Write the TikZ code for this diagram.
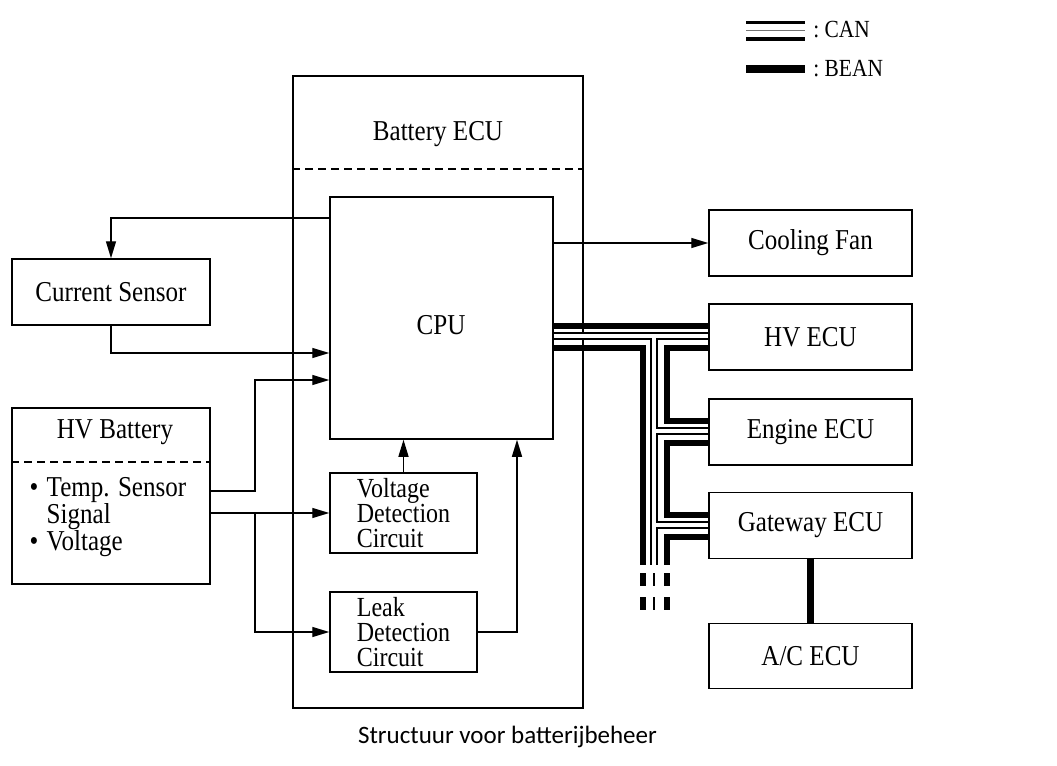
\documentclass[tikz,border=0pt]{standalone}
\usepackage{fontspec}
\setmainfont[FakeStretch=0.87]{Liberation Serif}
\newfontfamily\capfont{Carlito}
\usetikzlibrary{arrows.meta,positioning}
\newcommand\bul{\makebox[8.5pt][l]{\textbullet}}

\begin{document}
\begin{tikzpicture}[>={Triangle[length=8.5pt,width=5pt]},x=0.5pt,y=-0.5pt,
    box/.style={draw,line width=0.75pt,inner sep=0pt,align=center,
      font=\fontsize{14.4}{12}\selectfont},
    circ/.style={box,align=left,minimum width=73.5pt,minimum height=40pt,
      font=\fontsize{13.8}{12.3}\selectfont},
    txt/.style={inner sep=0pt,align=left,font=\fontsize{14.4}{13.5}\selectfont},
    sig/.style={->,line width=0.7pt},
    sep/.style={dashed,line width=0.6pt,dash pattern=on 4pt off 2.5pt},
    beam/.style={line width=3pt},
    pair/.style={double,line width=0.7pt,double distance=2.2pt}]
  \useasboundingbox (0,0) rectangle (1057,766);
  % legend
  \node[txt,anchor=west,font=\fontsize{12.3}{12}\selectfont] (can) at (813,30) {:\ CAN};
  \node[txt,anchor=west,font=\fontsize{12.3}{12}\selectfont] (bean) at (813,69) {:\ BEAN};
  \draw[line width=1.7pt] (746,22.5) -- (805,22.5) (746,39) -- (805,39);
  \draw[line width=0.8pt,black!55] (746,30.5) -- (805,30.5);
  \draw[line width=4.2pt] (746,69) -- (805,69);
  % battery ECU
  \node[box,minimum width=145pt,minimum height=316pt] (becu) at (438,392) {};
  \node[txt] (becutitle) at (438,134) {Battery ECU};
  \draw[sep] (becu.west |- 0,169) -- (becu.east |- 0,169);
  \node[box,minimum width=111.5pt,minimum height=121pt] (cpu) at (441.5,318) {};
  \node[txt] (cpulbl) at (441,325) {CPU};
  \node[circ] (vdc) at (403.5,513) {Voltage\\Detection\\Circuit};
  \node[circ] (ldc) at (403.5,632) {Leak\\Detection\\Circuit};
  % left side
  \node[box,minimum width=99pt,minimum height=33pt] (cs) at (111,292) {Current Sensor};
  \node[box,minimum width=99pt,minimum height=88pt] (hvb) at (111,496) {};
  \node[txt] (hvbtitle) at (115,432) {HV Battery};
  \draw[sep] (hvb.west |- 0,462) -- (hvb.east |- 0,462);
  \node[txt] (hvbsig) at (108,517) {\bul Temp. Sensor\\\phantom{\bul}Signal\\\bul Voltage};
  % right side
  \node[box,minimum width=101.5pt,minimum height=33pt] (fan) at (810.5,243) {Cooling Fan};
  \node[box,minimum width=101.5pt,minimum height=33pt] (hvecu) at (810.5,337) {HV ECU};
  \node[box,minimum width=101.5pt,minimum height=33pt] (eng) at (810.5,432) {Engine ECU};
  \node[box,minimum width=101.5pt,minimum height=33pt] (gw) at (810.5,525.5) {Gateway ECU};
  \node[box,minimum width=101.5pt,minimum height=32.5pt] (ac) at (810.5,656) {A/C ECU};
  \coordinate (tap) at (255,514);
  \coordinate (rise) at (517,632);
  \draw[sig] (cpu.west |- 0,218) -| (cs.north);
  \draw[sig] (cs.south) |- (cpu.west |- 0,353);
  \draw[sig] (hvb.east |- 0,491) -| (tap |- 0,380) -- (cpu.west |- 0,380);
  \draw[sig] (hvb.east |- vdc.west) -- (vdc.west);
  \draw[sig] (tap) |- (ldc.west);
  \draw[sig] (vdc.north) -- (vdc.north |- cpu.south);
  \draw[sig] (ldc.east) -| (rise |- cpu.south);
  \draw[sig] (cpu.east |- fan.west) -- (fan.west);
  % bus lines
  \draw[beam] (cpu.east |- 0,326) -- (hvecu.west |- 0,326);
  \draw[beam] (cpu.east |- 0,348) -| (643,565);
  \draw[beam] (hvecu.west |- 0,348) -| (667,421) -- (eng.west |- 0,421);
  \draw[beam] (eng.west |- 0,443) -| (667,514.5) -- (gw.west |- 0,514.5);
  \draw[beam] (gw.west |- 0,536.5) -| (667,565);
  \draw[pair] (cpu.east |- 0,336) -- (hvecu.west |- 0,336)
    (654,336) -- (654,565)
    (654,431) -- (eng.west |- 0,431)
    (654,525) -- (gw.west |- 0,525);
  \foreach \y in {573,597} {
    \draw[beam] (643,\y) -- (643,\y+13);
    \draw[line width=1.2pt] (654,\y) -- (654,\y+13);
    \draw[beam] (667,\y) -- (667,\y+13);
  }
  \draw[line width=3.5pt] (gw.south) -- (ac.north);
  \node[inner sep=0pt,font=\capfont\fontsize{12.5}{14}\selectfont] (caption) at (507.5,737) {Structuur voor batterijbeheer};
\end{tikzpicture}
\end{document}
